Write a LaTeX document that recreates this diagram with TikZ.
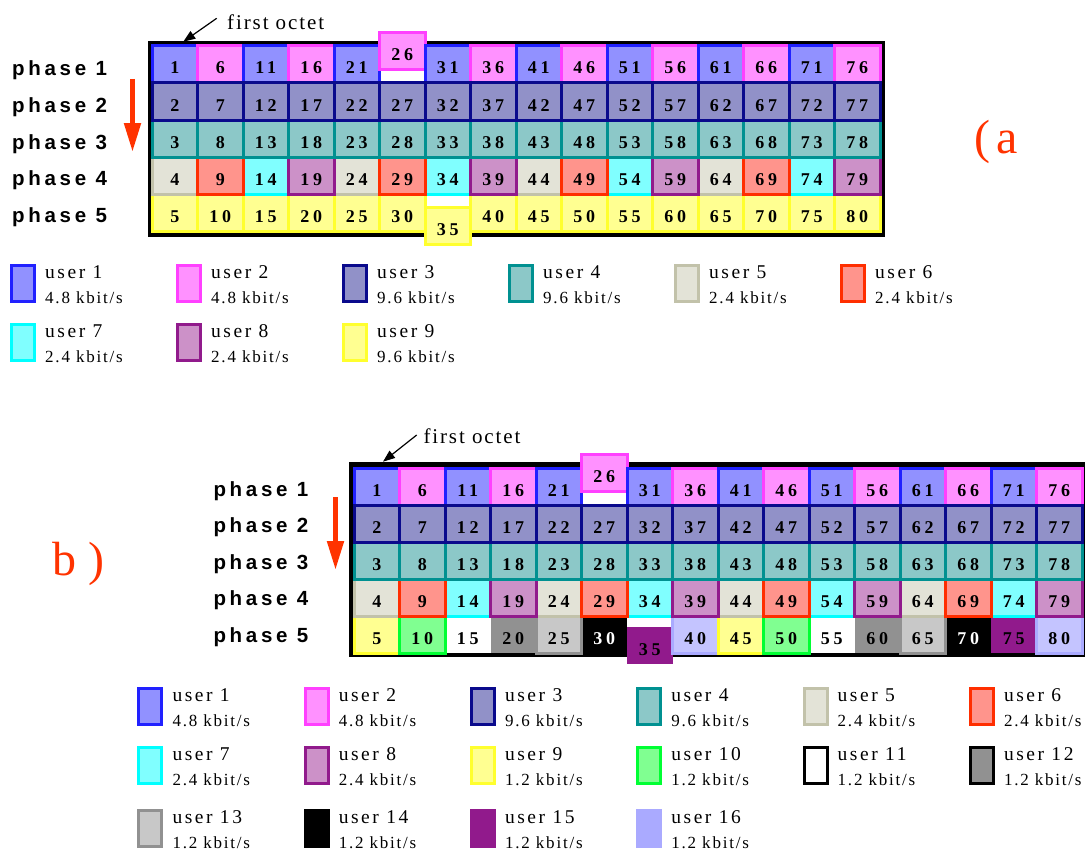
\documentclass[tikz,border=0pt]{standalone}
\usepackage{fontspec}
\setmainfont{Liberation Serif}
\usetikzlibrary{arrows.meta}
\newfontfamily\numfont[LetterSpace=22]{Liberation Serif}
\newfontfamily\phasefont[LetterSpace=18]{Liberation Sans}
\newfontfamily\legfont[LetterSpace=13]{Liberation Serif}
\newfontfamily\ratefont[LetterSpace=10.5]{Liberation Serif}
\newfontfamily\octfont[LetterSpace=9]{Liberation Serif}

\definecolor{f1}{HTML}{9191FF}\definecolor{d1}{HTML}{2121FF}\definecolor{t1}{HTML}{000000}
\definecolor{f2}{HTML}{FF91FF}\definecolor{d2}{HTML}{FF40FF}\definecolor{t2}{HTML}{000000}
\definecolor{f3}{HTML}{9191C8}\definecolor{d3}{HTML}{0A0A8C}\definecolor{t3}{HTML}{000000}
\definecolor{f4}{HTML}{8CC8C8}\definecolor{d4}{HTML}{009191}\definecolor{t4}{HTML}{000000}
\definecolor{f5}{HTML}{E3E3D7}\definecolor{d5}{HTML}{C2C2AA}\definecolor{t5}{HTML}{000000}
\definecolor{f6}{HTML}{FF948C}\definecolor{d6}{HTML}{FF2E00}\definecolor{t6}{HTML}{000000}
\definecolor{f7}{HTML}{80FFFF}\definecolor{d7}{HTML}{00FFFF}\definecolor{t7}{HTML}{000000}
\definecolor{f8}{HTML}{CC91C8}\definecolor{d8}{HTML}{911A8C}\definecolor{t8}{HTML}{000000}
\definecolor{f9}{HTML}{FFFF91}\definecolor{d9}{HTML}{FFFF2E}\definecolor{t9}{HTML}{000000}
\definecolor{f10}{HTML}{80FF91}\definecolor{d10}{HTML}{00FF33}\definecolor{t10}{HTML}{000000}
\definecolor{f11}{HTML}{FFFFFF}\definecolor{d11}{HTML}{000000}\definecolor{t11}{HTML}{000000}
\definecolor{f12}{HTML}{919191}\definecolor{d12}{HTML}{000000}\definecolor{t12}{HTML}{000000}
\definecolor{f13}{HTML}{C8C8C8}\definecolor{d13}{HTML}{919191}\definecolor{t13}{HTML}{000000}
\definecolor{f14}{HTML}{000000}\definecolor{d14}{HTML}{000000}\definecolor{t14}{HTML}{FFFFFF}
\definecolor{f15}{HTML}{911A8C}\definecolor{d15}{HTML}{911A8C}\definecolor{t15}{HTML}{000000}
\definecolor{f16}{HTML}{C4C4FF}\definecolor{d16}{HTML}{AAAAFF}\definecolor{t16}{HTML}{000000}
\definecolor{accent}{HTML}{FF3300}

\tikzset{
  cellnode/.style={rectangle, inner sep=0pt, outer sep=0pt, minimum width=45.5pt,
    minimum height=37pt, anchor=north west, text height=19pt, text depth=0pt,
    font=\numfont\bfseries\fontsize{18}{18}\selectfont},
  cellline/.style={line width=3pt},
  legbox/.style={rectangle, inner sep=0pt, outer sep=0pt, minimum width=23pt,
    minimum height=36pt, anchor=north west, line width=3pt},
  legname/.style={anchor=base west, inner sep=0pt, font=\legfont\fontsize{19.5}{19.5}\selectfont},
  legrate/.style={anchor=base west, inner sep=0pt, font=\ratefont\fontsize{17}{17}\selectfont},
  phaselabel/.style={anchor=base west, inner sep=0pt, font=\phasefont\bfseries\fontsize{20.5}{20.5}\selectfont},
  octlabel/.style={anchor=base west, inner sep=0pt, font=\octfont\fontsize{21}{21}\selectfont},
  octarrow/.style={line width=1.2pt, -{Triangle[length=12pt,width=9pt]}},
  phasearrow/.style={draw=accent, line width=5pt, -{Triangle[length=29pt,width=16pt]}},
  panellabel/.style={anchor=base west, inner sep=0pt, text=accent, font=\fontsize{48}{48}\selectfont}
}

% number and user of the cell in row #2, column #3, with row-5 period #4
\newcommand\cellinfo[4]{%
  \pgfmathtruncatemacro\nn{#2+5*#3}%
  \pgfmathtruncatemacro\uu{#2==1 ? 1+mod(#3,2) : (#2==2 ? 3 : (#2==3 ? 4 : (#2==4 ? 5+mod(#3,4) : 9+mod(#3,#4))))}%
}
\newcommand\cellborder[4]{% prefix, row, col, period
  \cellinfo{}{#2}{#3}{#4}%
  \pgfmathtruncatemacro\nob{(\uu==11)||(\uu==12)||(\uu==14)||(\uu==15)}%
  \ifnum\nob=0
    \draw[cellline, draw=d\uu] (#1\nn.north west) rectangle (#1\nn.south east);
  \fi
}
% prefix, x0, y0, period, up shift of 26, down shift of 35
\newcommand\cellgrid[6]{%
  \foreach \rr in {1,...,5} {
    \foreach \cc in {0,...,15} {
      \cellinfo{}{\rr}{\cc}{#4}
      \pgfmathsetmacro\xx{#2+45.5*\cc}
      \pgfmathsetmacro\yy{#3+37*(\rr-1)-(\nn==26)*#5+(\nn==35)*#6}
      \node[cellnode, fill=f\uu, text=t\uu] (#1\nn) at (\xx,\yy) {\nn};
    }
  }
  \foreach \rr in {1,5} {\foreach \cc in {0,...,15} {\cellborder{#1}{\rr}{\cc}{#4}}}
  \foreach \cc in {0,2,...,14} {\cellborder{#1}{4}{\cc}{#4}}
  \foreach \cc in {1,3,...,15} {\cellborder{#1}{4}{\cc}{#4}}
  \foreach \rr in {3,2} {\foreach \cc in {0,...,15} {\cellborder{#1}{\rr}{\cc}{#4}}}
}

\begin{document}
\begin{tikzpicture}[x=1pt,y=-1pt]
\useasboundingbox (0,0) rectangle (1085,851);

% ---------------- panel (a) ----------------
\fill[black] (148,41) rectangle (885,237);
\fill[white] (379.5,46) rectangle (425,83);
\fill[white] (425,194) rectangle (470.5,231);
\cellgrid{a}{152}{46}{1}{13}{13}

\foreach \i/\b in {1/76,2/112.5,3/149,4/185.5,5/222}
  \node[phaselabel] (pa\i) at (12,\b) {phase \i};

\node[octlabel] (octa) at (227,29.3) {first octet};
\coordinate (octa-s) at (216.7,18.3);
\coordinate (octa-t) at (183.3,41.7);
\draw[octarrow] (octa-s) -- (octa-t);

\coordinate (pha-s) at (132.5,79);
\coordinate (pha-t) at (132.5,152);
\draw[phasearrow] (pha-s) -- (pha-t);

\node[panellabel] (labela) at (974,153) {(\kern6pt a};

\foreach \u/\rate [count=\k from 0] in {1/4.8,2/4.8,3/9.6,4/9.6,5/2.4,6/2.4,7/2.4,8/2.4,9/9.6} {
  \pgfmathsetmacro\xx{10+166*mod(\k,6)}
  \pgfmathsetmacro\yy{264.3+59*floor(\k/6)}
  \node[legbox, fill=f\u, draw=d\u] (lab\u) at (\xx+1.5,\yy+1.5) {};
  \node[legname] (lan\u) at (\xx+35,\yy+14) {user \u};
  \node[legrate] (lar\u) at (\xx+35,\yy+39) {\rate{} kbit/s};
}

% ---------------- panel (b) ----------------
\fill[black] (349,462) rectangle (1087,657);
\fill[white] (581.5,468) rectangle (627,505);
\fill[white] (627,616) rectangle (672.5,652);
\cellgrid{b}{354}{468}{8}{13.5}{11}

\foreach \i/\b in {1/496,2/532.5,3/569,4/605.5,5/642}
  \node[phaselabel] (pb\i) at (213.3,\b) {phase \i};

\node[octlabel] (octb) at (423.3,443.3) {first octet};
\coordinate (octb-s) at (416.7,435);
\coordinate (octb-t) at (383,461.7);
\draw[octarrow] (octb-s) -- (octb-t);

\coordinate (phb-s) at (335.5,497);
\coordinate (phb-t) at (335.5,570);
\draw[phasearrow] (phb-s) -- (phb-t);

\node[panellabel] (labelb) at (52.5,575) {b )};

\foreach \u/\rate [count=\k from 0] in {1/4.8,2/4.8,3/9.6,4/9.6,5/2.4,6/2.4,7/2.4,8/2.4,9/1.2,10/1.2,11/1.2,12/1.2,13/1.2,14/1.2,15/1.2,16/1.2} {
  \pgfmathsetmacro\xx{137.3+166.3*mod(\k,6)}
  \pgfmathtruncatemacro\rw{floor(\k/6)}
  \pgfmathsetmacro\yy{687.3+59*\rw+4*(\rw==2)}
  \ifnum\u=16 \def\lfill{d16}\else\def\lfill{f\u}\fi
  \node[legbox, fill=\lfill, draw=d\u] (lbb\u) at (\xx+1.5,\yy+1.5) {};
  \node[legname] (lbn\u) at (\xx+35,\yy+14) {user \u};
  \node[legrate] (lbr\u) at (\xx+35,\yy+39) {\rate{} kbit/s};
}
\end{tikzpicture}
\end{document}
